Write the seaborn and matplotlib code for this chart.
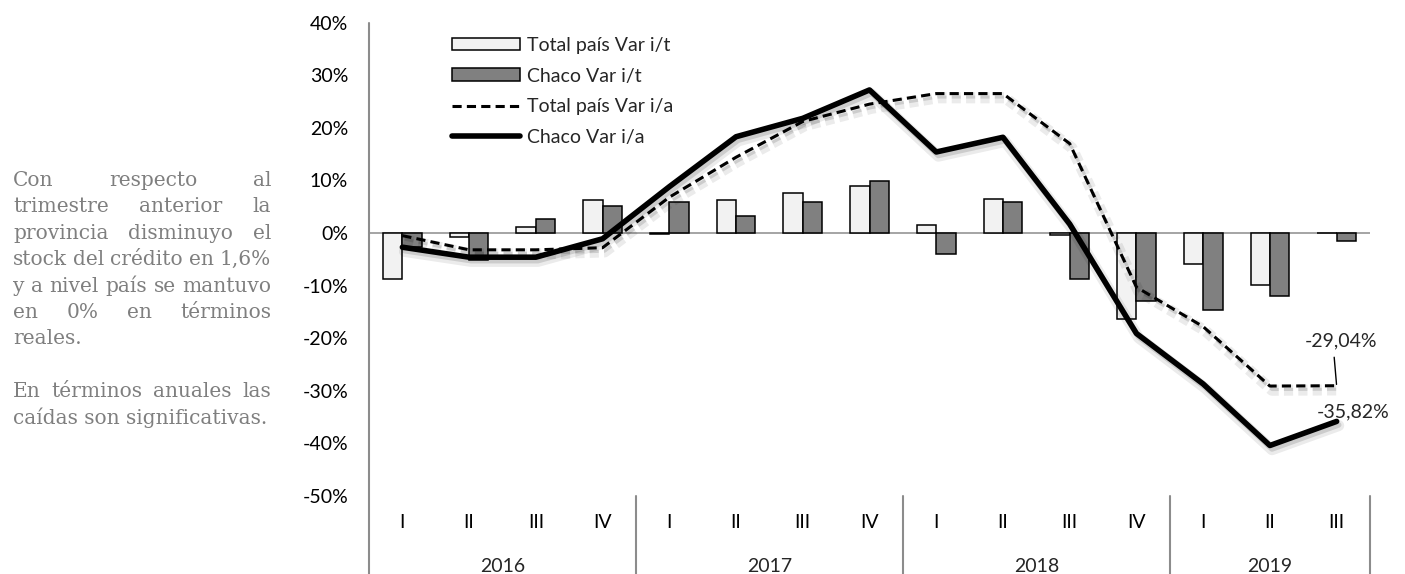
import numpy as np
import pandas as pd
import matplotlib
matplotlib.use("Agg")
import matplotlib.pyplot as plt
import seaborn as sns
from matplotlib.patches import Patch
from matplotlib.lines import Line2D
from matplotlib import patheffects as pe
from matplotlib.transforms import blended_transform_factory

# ---- data -------------------------------------------------------------
years = ["2016", "2017", "2018", "2019"]
quarters = ["I", "II", "III", "IV", "I", "II", "III", "IV",
            "I", "II", "III", "IV", "I", "II", "III"]
year_of = ["2016"] * 4 + ["2017"] * 4 + ["2018"] * 4 + ["2019"] * 3

pais_it = [-8.7, -0.8, 1.1, 6.3, -0.2, 6.3, 7.6, 9.0,
           1.6, 6.4, -0.4, -16.3, -5.9, -9.8, 0.0]
chaco_it = [-2.6, -5.2, 2.7, 5.2, 5.9, 3.3, 5.9, 9.8,
            -4.0, 5.9, -8.8, -13.0, -14.7, -11.9, -1.6]
pais_ia = [-0.5, -3.2, -3.2, -2.8, 6.8, 14.4, 21.2, 24.5,
           26.5, 26.5, 17.0, -10.3, -17.8, -29.1, -29.04]
chaco_ia = [-2.7, -4.6, -4.6, -1.1, 8.8, 18.3, 21.8, 27.2,
            15.4, 18.2, 1.7, -19.1, -28.7, -40.4, -35.82]

series_it = ["Total país Var i/t", "Chaco Var i/t"]
series_ia = ["Total país Var i/a", "Chaco Var i/a"]
y_ticks = [40, 30, 20, 10, 0, -10, -20, -30, -40, -50]

paragraph_1 = ["Con respecto al", "trimestre anterior la",
               "provincia disminuyo el", "stock del crédito en 1,6%",
               "y a nivel país se mantuvo", "en 0% en términos", "reales."]
paragraph_2 = ["En términos anuales las", "caídas son significativas."]

periods = [f"{y} {q}" for y, q in zip(year_of, quarters)]
bars_df = pd.DataFrame({
    "periodo": periods * 2,
    "serie": [series_it[0]] * len(periods) + [series_it[1]] * len(periods),
    "valor": pais_it + chaco_it,
})
idx = np.arange(len(periods))

# ---- figure -------------------------------------------------------------
sns.set_style("white")
plt.rcParams["font.family"] = ["Lato", "DejaVu Sans"]

W, H = 1405, 574
fig = plt.figure(figsize=(W / 100, H / 100), dpi=100)
ax_left, ax_right, ax_top, ax_bottom = 369, 1370, 22.6, 496
ax = fig.add_axes([ax_left / W, 1 - ax_bottom / H,
                   (ax_right - ax_left) / W, (ax_bottom - ax_top) / H])

gray_axis = "#8c8c8c"
ax.axhline(0, color=gray_axis, lw=1.1, zorder=1)

sns.barplot(data=bars_df, x="periodo", y="valor", hue="serie",
            order=periods, hue_order=series_it,
            palette=["#f2f2f2", "#808080"], width=0.58,
            edgecolor="black", linewidth=1.1, legend=False, ax=ax, zorder=2)

shadow = [pe.SimpleLineShadow(offset=(1.5, -3), shadow_color="black", alpha=0.08, linewidth=8),
          pe.SimpleLineShadow(offset=(1.5, -2.5), shadow_color="black", alpha=0.13),
          pe.Normal()]
dash = (0, (3, 1.7))
sns.lineplot(x=idx, y=pais_ia, color="black", lw=2.2, linestyle=dash,
             errorbar=None, ax=ax, zorder=4, path_effects=shadow)
sns.lineplot(x=idx, y=chaco_ia, color="black", lw=4, errorbar=None,
             ax=ax, zorder=5, path_effects=shadow)

ax.set_xlim(-0.5, len(periods) - 0.5)
ax.set_ylim(-50, 40)
ax.set_xlabel("")
ax.set_ylabel("")
ax.set_xticks(idx)
ax.set_xticklabels(quarters)
ax.set_yticks(y_ticks)
ax.set_yticklabels([f"{t}%" for t in y_ticks])
ax.tick_params(axis="x", length=0, pad=13, labelsize=14, colors="black")
ax.tick_params(axis="y", length=0, pad=15, labelsize=14, colors="black")
for s in ax.spines.values():
    s.set_visible(False)

# category axis: left spine, year separators and year labels
trans = blended_transform_factory(ax.transData, ax.transAxes)
low = -(H - ax_bottom) / (ax_bottom - ax_top)
ax.plot([-0.5, -0.5], [1, low], transform=trans, clip_on=False,
        color=gray_axis, lw=1.5)
bounds = [-0.5]
for y in years:
    pos = [i for i, yy in enumerate(year_of) if yy == y]
    bounds.append(pos[-1] + 0.5)
    ax.text(np.mean(pos), -(566 - ax_bottom) / (ax_bottom - ax_top), y,
            transform=trans, ha="center", va="center", fontsize=14)
for b in bounds[1:]:
    ax.plot([b, b], [0, low], transform=trans, clip_on=False,
            color=gray_axis, lw=1.5)

# end-of-series labels
last = len(periods) - 1
ax.annotate(f"{pais_ia[-1]:.2f}%".replace(".", ","), xy=(last, pais_ia[-1]),
            xytext=(3, 32), textcoords="offset points", ha="center",
            va="center", fontsize=14, zorder=6,
            arrowprops=dict(arrowstyle="-", color="black", lw=1.0,
                            shrinkA=3, shrinkB=1, relpos=(0.4, 0)))
ax.annotate(f"{chaco_ia[-1]:.2f}%".replace(".", ","), xy=(last, chaco_ia[-1]),
            xytext=(12, 7), textcoords="offset points", ha="center",
            va="center", fontsize=14, zorder=6)

# legend
handles = [Patch(facecolor="#f2f2f2", edgecolor="black", lw=1.1),
           Patch(facecolor="#808080", edgecolor="black", lw=1.1),
           Line2D([], [], color="black", lw=2.2, linestyle=dash),
           Line2D([], [], color="black", lw=4)]
fig.legend(handles, series_it + series_ia, loc="upper left",
           bbox_to_anchor=(452 / W, 1 - 37 / H), bbox_transform=fig.transFigure,
           frameon=False, fontsize=14, handlelength=3.5, handleheight=0.62,
           handletextpad=0.36, labelspacing=0.70, borderpad=0, borderaxespad=0)

# side commentary, justified
renderer = fig.canvas.get_renderer()
txt_kw = dict(fontsize=14.5, color="#7f7f7f", family="DejaVu Serif",
              va="baseline", ha="left")
x0, x1 = 13, 271


def put_line(text, y_px, justify):
    if not justify:
        fig.text(x0 / W, 1 - y_px / H, text, **txt_kw)
        return
    words = text.split()
    objs = [fig.text(0, 1 - y_px / H, w, **txt_kw) for w in words]
    widths = [o.get_window_extent(renderer).width for o in objs]
    gap = (x1 - x0 - sum(widths)) / (len(words) - 1)
    x = x0
    for o, w in zip(objs, widths):
        o.set_x(x / W)
        x += w + gap


first_base, step = 186, 26.4
for i, line in enumerate(paragraph_1):
    put_line(line, first_base + i * step, i < len(paragraph_1) - 1)
for i, line in enumerate(paragraph_2):
    put_line(line, first_base + (len(paragraph_1) + 1 + i) * step,
             i < len(paragraph_2) - 1)

fig.savefig("out.png", dpi=100)
